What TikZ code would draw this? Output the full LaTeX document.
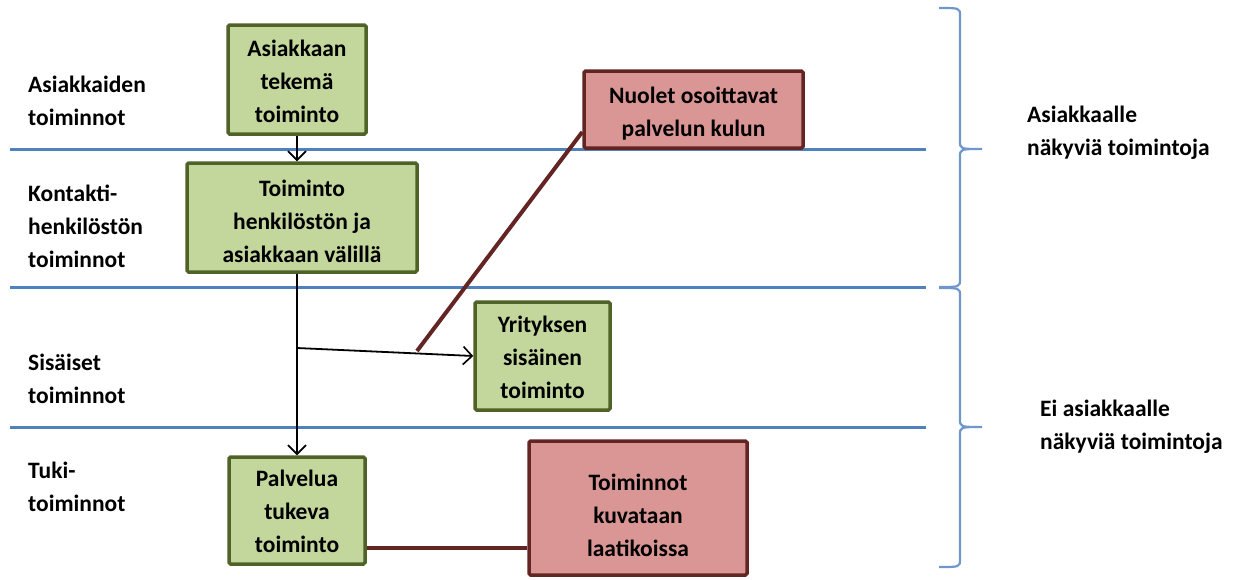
\documentclass[tikz,border=0pt]{standalone}
\usepackage{fontspec}
\setmainfont{Carlito}
\usetikzlibrary{arrows.meta}

\definecolor{laneblue}{HTML}{4F81BD}
\definecolor{bracebl}{HTML}{6F97CB}
\definecolor{greenfill}{HTML}{C3D69B}
\definecolor{greenline}{HTML}{4F6228}
\definecolor{redfill}{HTML}{D99694}
\definecolor{redline}{HTML}{632523}

\begin{document}
\begin{tikzpicture}[x=1pt,y=-1pt,
  font=\bfseries\fontsize{23.5}{33}\selectfont,
  greenbox/.style={draw=greenline,fill=greenfill,line width=3.5pt,rounded corners=1.5pt,
    inner sep=0pt},
  notebox/.style={draw=redline,fill=redfill,line width=3.5pt,rounded corners=1.5pt,
    inner sep=0pt},
  boxtext/.style={align=center,inner sep=0pt},
  lane/.style={draw=laneblue,line width=3pt},
  flow/.style={draw=black,line width=1.8pt,-{Straight Barb[length=9pt,width=18pt,line width=1.6pt]}},
  noteline/.style={draw=redline,line width=4pt},
  bracket/.style={draw=bracebl,line width=2.2pt},
  lanelabel/.style={anchor=west,align=left,inner sep=0pt},
  sidelabel/.style={anchor=west,align=left,inner sep=0pt}]

% canvas
\useasboundingbox (0,0) rectangle (1240,579);

% swimlane separators
\draw[lane] (10,149) -- (926,149);
\draw[lane] (10,287) -- (926,287);
\draw[lane] (10,427) -- (926,427);

% lane titles
\node[lanelabel] (l1) at (28,101) {Asiakkaiden\\toiminnot};
\node[lanelabel] (l2) at (28,226) {Kontakti-\\henkilöstön\\toiminnot};
\node[lanelabel] (l3) at (28,379) {Sisäiset\\toiminnot};
\node[lanelabel] (l4) at (28,487) {Tuki-\\toiminnot};

% activity boxes
\node[greenbox,minimum width=138pt,minimum height=109pt] (b1) at (297,79.5) {};
\node[greenbox,minimum width=230pt,minimum height=109pt] (b2) at (302,217.5) {};
\node[greenbox,minimum width=135pt,minimum height=108pt] (b4) at (542.5,356) {};
\node[greenbox,minimum width=136pt,minimum height=107pt] (b5) at (297,510.5) {};
\node[boxtext] (t1) at ([yshift=-2pt]b1.center) {Asiakkaan\\tekemä\\toiminto};
\node[boxtext] (t2) at ([yshift=-4pt]b2.center) {Toiminto\\henkilöstön ja\\asiakkaan välillä};
\node[boxtext] (t4) at ([yshift=-1pt]b4.center) {Yrityksen\\sisäinen\\toiminto};
\node[boxtext] (t5) at ([yshift=-1pt]b5.center) {Palvelua\\tukeva\\toiminto};

% explanatory notes
\node[notebox,minimum width=219pt,minimum height=77pt] (n1) at (693.5,109.5) {};
\node[notebox,minimum width=218pt,minimum height=134pt] (n2) at (638,508) {};
\node[boxtext] (tn1) at ([yshift=-4pt]n1.center) {Nuolet osoittavat\\palvelun kulun};
\node[boxtext] (tn2) at ([yshift=-7pt]n2.center) {Toiminnot\\kuvataan\\laatikoissa};

% service flow
\coordinate (split) at (297,348);
\draw[flow] (b1.south) -- (b1.south |- b2.north);
\draw[flow] (b5.north |- b2.south) -- (b5.north);
\draw[flow] (split) -- (b4.west);

% note pointers
\coordinate (flowpt) at (417,351);
\draw[noteline] (flowpt) -- (n1.west |- 0,132);
\draw[noteline] (n2.west |- 0,548) -- (b5.east |- 0,548);

% visibility brackets
\draw[bracket] (939,8) .. controls (960,8) .. (960,16) -- (960,141)
  .. controls (960,149) .. (982,149) .. controls (960,149) .. (960,157)
  -- (960,279) .. controls (960,287) .. (939,287);
\draw[bracket] (939,288) .. controls (960,288) .. (960,296) -- (960,419)
  .. controls (960,427) .. (982,427) .. controls (960,427) .. (960,435)
  -- (960,559) .. controls (960,567) .. (939,567);

\node[sidelabel] (s1) at (1027,133) {Asiakkaalle\\näkyviä toimintoja};
\node[sidelabel] (s2) at (1040,427) {Ei asiakkaalle\\näkyviä toimintoja};

\end{tikzpicture}
\end{document}
